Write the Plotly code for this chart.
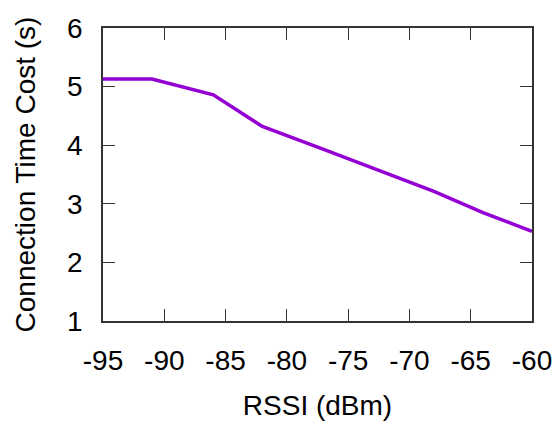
import plotly.graph_objects as go

rssi = [-95, -91, -86, -82, -77, -73, -68, -64, -60]
cost = [5.13, 5.13, 4.86, 4.32, 3.93, 3.61, 3.21, 2.85, 2.53]
x_ticks = [-95, -90, -85, -80, -75, -70, -65, -60]
x_tick_text = ["-95", "-90", "-85", "-80", "-75", "-70", "-65", "-60"]
y_ticks = [1, 2, 3, 4, 5, 6]
y_tick_text = ["1", "2", "3", "4", "5", "6"]

font_family = "Liberation Sans, Arial, sans-serif"

fig = go.Figure()
fig.add_trace(go.Scatter(x=rssi, y=cost, mode="lines",
                         line=dict(color="#9400D3", width=3.5)))

axis_common = dict(showline=True, linecolor="#333333", linewidth=1.5,
                   mirror="ticks", ticks="inside", ticklen=12,
                   tickcolor="#333333", tickwidth=1.2, showgrid=False,
                   zeroline=False, automargin=False,
                   tickfont=dict(family=font_family, size=28, color="black"))

fig.update_xaxes(range=[-95, -60], tickvals=x_ticks, ticktext=x_tick_text,
                 ticklabelstandoff=14,
                 title=dict(text="RSSI (dBm)", standoff=20,
                            font=dict(family=font_family, size=28, color="black")),
                 **axis_common)
fig.update_yaxes(range=[1, 6], tickvals=y_ticks, ticktext=y_tick_text,
                 ticklabelstandoff=13,
                 title=dict(text="Connection Time Cost (s)", standoff=23,
                            font=dict(family=font_family, size=28, color="black")),
                 **axis_common)

fig.update_layout(width=556, height=424, showlegend=False,
                  plot_bgcolor="white", paper_bgcolor="white",
                  margin=dict(l=103, r=24, t=28, b=103))

fig.write_html("out.html")
